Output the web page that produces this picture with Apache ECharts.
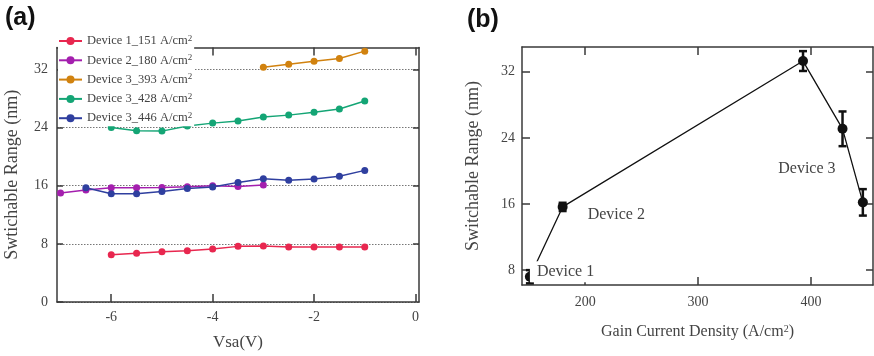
<!DOCTYPE html>
<html>
<head>
<meta charset="utf-8">
<script src="https://cdn.jsdelivr.net/npm/echarts@6/dist/echarts.min.js"></script>
<style>
  html, body { margin: 0; padding: 0; background: #fff; }
  #chart { width: 874px; height: 356px; }
</style>
</head>
<body>
<div id="chart"></div>
<script>
// ---- (a) switchable range versus Vsa for each device / current density ----
const vsaDev1 = [-6, -5.5, -5, -4.5, -4, -3.5, -3, -2.5, -2, -1.5, -1];
const rangeDev1_151 = [6.5, 6.7, 6.9, 7.05, 7.3, 7.65, 7.7, 7.55, 7.55, 7.55, 7.55];

const vsaDev2 = [-7, -6.5, -6, -5.5, -5, -4.5, -4, -3.5, -3];
const rangeDev2_180 = [15.0, 15.4, 15.7, 15.7, 15.75, 15.85, 16.0, 15.9, 16.1];

const vsaDev3_393 = [-3, -2.5, -2, -1.5, -1];
const rangeDev3_393 = [32.3, 32.7, 33.1, 33.5, 34.5];

const vsaDev3_428 = [-6, -5.5, -5, -4.5, -4, -3.5, -3, -2.5, -2, -1.5, -1];
const rangeDev3_428 = [24.0, 23.55, 23.5, 24.2, 24.6, 24.9, 25.45, 25.7, 26.1, 26.55, 27.65];

const vsaDev3_446 = [-6.5, -6, -5.5, -5, -4.5, -4, -3.5, -3, -2.5, -2, -1.5, -1];
const rangeDev3_446 = [15.7, 14.9, 14.9, 15.2, 15.6, 15.8, 16.45, 16.95, 16.75, 16.9, 17.3, 18.1];

const seriesNamesA = [
  'Device 1_151 A/cm²', 'Device 2_180 A/cm²', 'Device 3_393 A/cm²',
  'Device 3_428 A/cm²', 'Device 3_446 A/cm²'
];
const seriesColorsA = ['#e8274f', '#a41fae', '#d1820f', '#14a575', '#2f3f9f'];

const xTicksA = [-6, -4, -2, 0];
const yTicksA = [0, 8, 16, 24, 32];

// ---- (b) switchable range versus gain current density ----
const currentDensity = [151, 180, 393, 428, 446];
const switchRange = [7.2, 15.65, 33.3, 25.1, 16.2];
const switchRangeErr = [0.8, 0.5, 1.2, 2.1, 1.6];
const deviceLabels = ['Device 1', 'Device 2', '', 'Device 3', ''];

const xTicksB = [200, 300, 400];
const yTicksB = [8, 16, 24, 32];

const SERIF = 'Liberation Serif';
const TXT = '#444';
const AXIS = '#3a3a3a';

function pairs(xs, ys) { return xs.map((x, i) => [x, ys[i]]); }

const dataA = [
  pairs(vsaDev1, rangeDev1_151),
  pairs(vsaDev2, rangeDev2_180),
  pairs(vsaDev3_393, rangeDev3_393),
  pairs(vsaDev3_428, rangeDev3_428),
  pairs(vsaDev3_446, rangeDev3_446)
];

const lineA = { show: true, onZero: false, lineStyle: { color: AXIS, width: 1.5 } };
const labelFont = { fontFamily: SERIF, fontSize: 14, color: TXT };
const tickStyle = { color: AXIS, width: 1.5 };

// label layout for the device annotations in (b)
const devLabelStyle = [
  { position: 'right', distance: -5, offset: [0, -5], backgroundColor: '#fff', padding: [5, 2, 0, 7] },
  { position: 'right', distance: 20, offset: [0, 8] },
  null,
  { position: 'left', distance: 2, offset: [0, 40] },
  null
];

const dataB = currentDensity.map((x, i) => {
  const item = { value: [x, switchRange[i]] };
  if (deviceLabels[i]) {
    item.label = Object.assign({
      show: true,
      formatter: deviceLabels[i],
      fontFamily: SERIF, fontSize: 16, color: TXT
    }, devLabelStyle[i]);
  }
  return item;
});
const errDataB = currentDensity.map((x, i) => [x, switchRange[i] - switchRangeErr[i], switchRange[i] + switchRangeErr[i]]);

const chart = echarts.init(document.getElementById('chart'), null, { renderer: 'canvas' });

const option = {
  animation: false,
  backgroundColor: '#fff',
  graphic: [
    { type: 'text', left: 5, top: 6, style: { text: '(a)', font: 'bold 25px "Liberation Sans"', fill: '#111' } },
    { type: 'text', left: 467, top: 8, style: { text: '(b)', font: 'bold 25px "Liberation Sans"', fill: '#111' } }
  ],
  legend: {
    orient: 'vertical',
    left: 58, top: 32,
    padding: [2, 2, 1, 0],
    itemGap: 5.3,
    itemWidth: 23,
    itemHeight: 10,
    backgroundColor: '#fff',
    data: seriesNamesA,
    formatter: name => name.replace('A/cm²', 'A/cm{sup|2}'),
    textStyle: {
      fontFamily: SERIF, fontSize: 12.5, color: TXT, lineHeight: 14,
      rich: { sup: { fontFamily: SERIF, fontSize: 9, lineHeight: 7, verticalAlign: 'top', color: TXT } }
    }
  },
  grid: [
    { left: 57, top: 47.5, width: 362, height: 254.5 },
    { left: 522, top: 47, width: 351, height: 238 }
  ],
  xAxis: [
    {
      gridIndex: 0, type: 'value', min: -7.07, max: 0.07, position: 'bottom',
      axisLine: lineA,
      axisTick: { show: true, inside: true, length: 8, customValues: xTicksA, lineStyle: tickStyle },
      axisLabel: Object.assign({ customValues: xTicksA, margin: 8 }, labelFont),
      splitLine: { show: false },
      name: 'Vsa(V)', nameLocation: 'middle', nameGap: 32,
      nameTextStyle: { fontFamily: SERIF, fontSize: 17, color: TXT }
    },
    {
      gridIndex: 0, type: 'value', min: -7.07, max: 0.07, position: 'top',
      axisLine: lineA,
      axisTick: { show: true, inside: true, length: 8, customValues: xTicksA, lineStyle: tickStyle },
      axisLabel: { show: false },
      splitLine: { show: false }
    },
    {
      gridIndex: 1, type: 'value', min: 144, max: 455, position: 'bottom',
      axisLine: lineA,
      axisTick: { show: true, inside: true, length: 8, customValues: xTicksB, lineStyle: tickStyle },
      axisLabel: Object.assign({ customValues: xTicksB, margin: 10 }, labelFont),
      splitLine: { show: false },
      name: 'Gain Current Density (A/cm{sup|2})', nameLocation: 'middle', nameGap: 39,
      nameTextStyle: {
        fontFamily: SERIF, fontSize: 16, color: TXT,
        rich: { sup: { fontFamily: SERIF, fontSize: 10, lineHeight: 8, verticalAlign: 'top', color: TXT } }
      }
    },
    {
      gridIndex: 1, type: 'value', min: 144, max: 455, position: 'top',
      axisLine: lineA,
      axisTick: { show: true, inside: true, length: 8, customValues: xTicksB, lineStyle: tickStyle },
      axisLabel: { show: false },
      splitLine: { show: false }
    }
  ],
  yAxis: [
    {
      gridIndex: 0, type: 'value', min: 0, max: 35, interval: 8, position: 'left',
      axisLine: lineA,
      axisTick: { show: true, inside: true, length: 6, customValues: yTicksA, lineStyle: tickStyle },
      axisLabel: Object.assign({ customValues: yTicksA, margin: 9 }, labelFont),
      splitLine: { show: true, lineStyle: { color: '#777', width: 1, type: [1.5, 1.5] } },
      name: 'Swtichable Range (nm)', nameLocation: 'middle', nameGap: 36, nameRotate: 90,
      nameTextStyle: { fontFamily: SERIF, fontSize: 18, color: TXT }
    },
    {
      gridIndex: 0, type: 'value', min: 0, max: 35, position: 'right',
      axisLine: lineA,
      axisTick: { show: true, inside: true, length: 6, customValues: [8, 16, 24, 32], lineStyle: tickStyle },
      axisLabel: { show: false },
      splitLine: { show: false }
    },
    {
      gridIndex: 1, type: 'value', min: 6.2, max: 35, position: 'left',
      axisLine: lineA,
      axisTick: { show: true, inside: true, length: 8, customValues: yTicksB, lineStyle: tickStyle },
      axisLabel: Object.assign({ customValues: yTicksB, margin: 7 }, labelFont),
      splitLine: { show: false },
      name: 'Switchable Range (nm)', nameLocation: 'middle', nameGap: 40, nameRotate: 90,
      nameTextStyle: { fontFamily: SERIF, fontSize: 18, color: TXT }
    },
    {
      gridIndex: 1, type: 'value', min: 6.2, max: 35, position: 'right',
      axisLine: lineA,
      axisTick: { show: true, inside: true, length: 7, customValues: yTicksB, lineStyle: tickStyle },
      axisLabel: { show: false },
      splitLine: { show: false }
    }
  ],
  series: [
    ...dataA.map((d, i) => ({
      name: seriesNamesA[i],
      type: 'line',
      xAxisIndex: 0, yAxisIndex: 0,
      data: d,
      symbol: 'circle',
      symbolSize: 7,
      color: seriesColorsA[i],
      lineStyle: { width: 1.5, color: seriesColorsA[i] },
      itemStyle: { color: seriesColorsA[i] }
    })),
    {
      name: 'error',
      type: 'custom',
      xAxisIndex: 2, yAxisIndex: 2,
      data: errDataB,
      z: 3,
      renderItem: function (params, api) {
        const x = api.value(0);
        const top = api.coord([x, api.value(2)]);
        const bot = api.coord([x, api.value(1)]);
        const cap = 4;
        const st = { stroke: '#111', lineWidth: 2.5 };
        return {
          type: 'group',
          children: [
            { type: 'line', shape: { x1: top[0], y1: top[1], x2: bot[0], y2: bot[1] }, style: st },
            { type: 'line', shape: { x1: top[0] - cap, y1: top[1], x2: top[0] + cap, y2: top[1] }, style: st },
            { type: 'line', shape: { x1: bot[0] - cap, y1: bot[1], x2: bot[0] + cap, y2: bot[1] }, style: st }
          ]
        };
      }
    },
    {
      name: 'range',
      type: 'line',
      xAxisIndex: 2, yAxisIndex: 2,
      data: dataB,
      symbol: 'circle',
      symbolSize: 10,
      z: 4,
      lineStyle: { width: 1.3, color: '#111' },
      itemStyle: { color: '#111' }
    }
  ]
};

chart.setOption(option);
</script>
</body>
</html>
